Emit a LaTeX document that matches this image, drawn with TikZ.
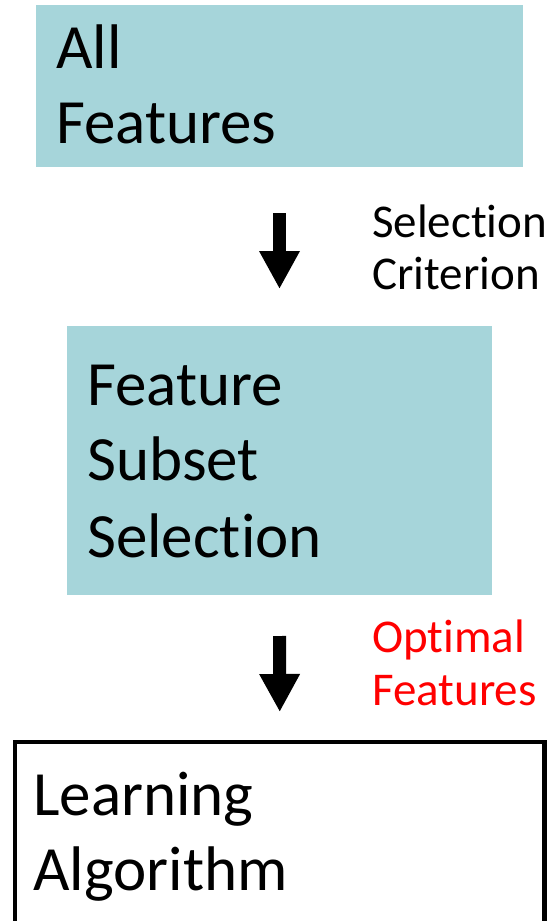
\documentclass[tikz,border=0pt]{standalone}
\usepackage{fontspec}
\setmainfont{Carlito}[RawFeature=-liga]
\usetikzlibrary{arrows.meta}
\definecolor{boxteal}{HTML}{A6D5DA}
\definecolor{optred}{HTML}{FF0000}
\begin{document}
\begin{tikzpicture}[x=1pt,y=-1pt,
  tealbox/.style={fill=boxteal, draw=none, inner sep=0pt, outer sep=0pt, anchor=north west},
  outlinebox/.style={draw=black, fill=white, line width=4.5pt, inner sep=0pt, outer sep=0pt, anchor=north west},
  bigtext/.style={inner sep=0pt, anchor=base west, font=\fontsize{63}{75}\selectfont},
  smalltext/.style={inner sep=0pt, anchor=base west, font=\fontsize{47}{53}\selectfont},
  bigarrow/.style={line width=13pt, -{Triangle[width=38pt,length=38pt]}}]
\useasboundingbox (0,0) rectangle (554,921);
\clip (0,0) rectangle (554,921);
% boxes
\node[tealbox, minimum width=487pt, minimum height=162pt] (all) at (36,5) {};
\node[tealbox, minimum width=425pt, minimum height=269pt] (fss) at (67,326) {};
\node[outlinebox, minimum width=529.5pt, minimum height=230pt] (learn) at (15,742) {};
% box texts
\node[bigtext] (allA) at (56,68.5) {All};
\node[bigtext] (allB) at (56,143.5) {Features};
\node[bigtext] (fssA) at (87,405) {Feature};
\node[bigtext] (fssB) at (87,480) {Subset};
\node[bigtext] (fssC) at (87,557) {Selection};
\node[bigtext] (learnA) at (33,815) {Learning};
\node[bigtext] (learnB) at (33,890) {Algorithm};
% side labels
\node[smalltext] (critA) at (372,237) {Selection};
\node[smalltext] (critB) at (372,289) {Criterion};
\node[smalltext, text=optred] (optA) at (372,652) {Optimal};
\node[smalltext, text=optred] (optB) at (372,705) {Features};
% arrows
\draw[bigarrow] ([yshift=-46pt]all.south) -- ([yshift=37pt]fss.north);
\draw[bigarrow] ([yshift=-41pt]fss.south) -- ([yshift=30pt]learn.north);
\end{tikzpicture}
\end{document}
